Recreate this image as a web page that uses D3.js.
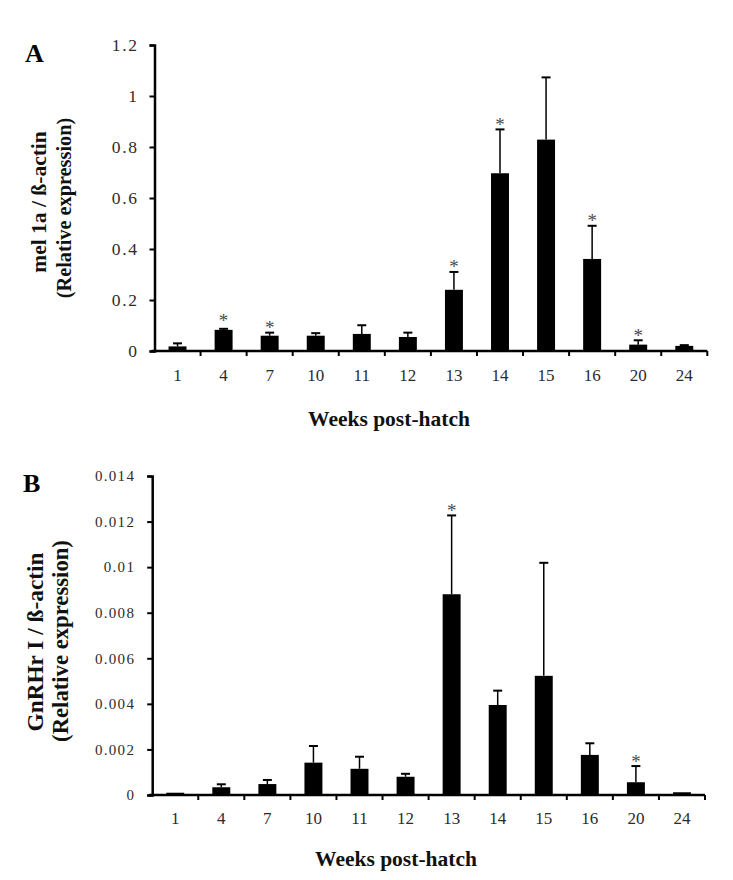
<!DOCTYPE html>
<html>
<head>
<meta charset="utf-8">
<script src="https://cdn.jsdelivr.net/npm/d3@7/dist/d3.min.js"></script>
<style>
  html, body { margin: 0; padding: 0; background: #fff; }
  svg { display: block; }
</style>
</head>
<body>
<svg id="chart" width="733" height="880" font-family="'Liberation Serif', 'Times New Roman', serif"></svg>
<script>
// ---- data ----
const weeks = ["1","4","7","10","11","12","13","14","15","16","20","24"];

const melMean = [0.018, 0.083, 0.060, 0.060, 0.067, 0.055, 0.240, 0.697, 0.829, 0.361, 0.025, 0.020];
const melErr  = [0.012, 0.004, 0.012, 0.010, 0.034, 0.017, 0.070, 0.172, 0.244, 0.130, 0.017, 0.003];
const melStar = ["4","7","13","14","16","20"];
const melTicks = [0, 0.2, 0.4, 0.6, 0.8, 1, 1.2];
const melTickLabels = ["0","0.2","0.4","0.6","0.8","1","1.2"];

const gnMean = [0.0001, 0.00034, 0.00048, 0.00142, 0.00115, 0.00080, 0.00881, 0.00395, 0.00523, 0.00176, 0.00056, 0.00012];
const gnErr  = [0.0000, 0.00013, 0.00018, 0.00073, 0.00053, 0.00013, 0.00346, 0.00063, 0.00496, 0.00051, 0.00071, 0.00000];
const gnStar = ["13","20"];
const gnTicks = [0, 0.002, 0.004, 0.006, 0.008, 0.01, 0.012, 0.014];
const gnTickLabels = ["0","0.002","0.004","0.006","0.008","0.01","0.012","0.014"];

const FONT = "'Liberation Serif', 'Times New Roman', serif";
const svg = d3.select("#chart");

function panel(cfg) {
  const g = svg.append("g");
  const x = d3.scaleBand().domain(weeks).range(cfg.xRange)
    .paddingInner(0.61).paddingOuter(0.305);
  const y = d3.scaleLinear().domain([0, cfg.yMax]).range(cfg.yRange);
  const cx = d => x(d) + x.bandwidth()/2;
  const topY = d => { const i = weeks.indexOf(d); return y(cfg.mean[i] + cfg.err[i]); };

  // bars
  g.selectAll("rect.bar").data(weeks).join("rect")
    .attr("x", d => x(d))
    .attr("width", x.bandwidth())
    .attr("y", (d,i) => y(cfg.mean[i]))
    .attr("height", (d,i) => y(0) - y(cfg.mean[i]))
    .attr("fill", "#000");

  // error bars
  const withErr = weeks.filter((d,i) => cfg.err[i] > 0);
  g.selectAll("line.ebv").data(withErr).join("line")
    .attr("x1", cx).attr("x2", cx)
    .attr("y1", d => y(cfg.mean[weeks.indexOf(d)]))
    .attr("y2", topY)
    .attr("stroke", "#000").attr("stroke-width", 1.5);
  g.selectAll("line.ebc").data(withErr).join("line")
    .attr("x1", d => cx(d) - 4.5).attr("x2", d => cx(d) + 4.5)
    .attr("y1", topY).attr("y2", topY)
    .attr("stroke", "#000").attr("stroke-width", 2);

  // stars
  g.selectAll("text.star").data(cfg.stars).join("text")
    .attr("x", cx)
    .attr("y", d => { const i = weeks.indexOf(d); return topY(d) + 1.5 - (cfg.err[i] < 0.01*cfg.yMax ? 3 : 0); })
    .attr("text-anchor", "middle")
    .attr("font-family", FONT)
    .attr("font-size", 19)
    .attr("fill", "#4a4a4a")
    .text("*");

  // y axis
  const yAxis = d3.axisLeft(y).tickValues(cfg.ticks)
    .tickFormat((d,i) => cfg.tickLabels[i]).tickSize(5).tickPadding(cfg.yPad);
  const ya = g.append("g").attr("transform", `translate(${cfg.xRange[0]},0)`).call(yAxis);
  ya.attr("font-family", FONT);
  ya.select(".domain").attr("stroke", "#000").attr("stroke-width", 2.5);
  ya.selectAll(".tick line").attr("stroke", "#000").attr("stroke-width", 2);
  ya.selectAll(".tick text")
    .attr("font-size", cfg.yFont)
    .attr("letter-spacing", cfg.yLetter)
    .attr("fill", "#2b2b2b");

  // x axis
  const xAxis = d3.axisBottom(x).tickSize(0).tickPadding(cfg.xPad);
  const xa = g.append("g").attr("transform", `translate(0,${y(0)})`).call(xAxis);
  xa.attr("font-family", FONT);
  xa.select(".domain").remove();
  xa.selectAll(".tick text")
    .attr("font-size", 17)
    .attr("fill", "#2b2b2b");
  g.append("line")
    .attr("x1", cfg.xRange[0] - 3).attr("x2", cfg.xRange[1])
    .attr("y1", y(0)).attr("y2", y(0))
    .attr("stroke", "#000").attr("stroke-width", 2.5);
  const step = x.step();
  g.selectAll("line.xt").data(weeks).join("line")
    .attr("x1", d => cx(d) + step/2)
    .attr("x2", d => cx(d) + step/2)
    .attr("y1", y(0)).attr("y2", y(0) + 5)
    .attr("stroke", "#000").attr("stroke-width", 2);

  // x title
  g.append("text")
    .attr("x", cfg.xTitle[0]).attr("y", cfg.xTitle[1])
    .attr("text-anchor", "middle")
    .attr("font-family", FONT)
    .attr("font-weight", "bold").attr("font-size", 21.5)
    .attr("fill", "#111")
    .text("Weeks post-hatch");

  // y title (two lines)
  cfg.yTitle.forEach(t => {
    g.append("text")
      .attr("transform", `translate(${t.x},${t.y}) rotate(-90)`)
      .attr("text-anchor", "middle")
      .attr("font-family", FONT)
      .attr("font-weight", "bold").attr("font-size", t.size)
      .attr("fill", "#111")
      .text(t.text);
  });

  // panel letter
  g.append("text")
    .attr("x", cfg.letter[0]).attr("y", cfg.letter[1])
    .attr("font-family", FONT)
    .attr("font-weight", "bold").attr("font-size", 26)
    .attr("fill", "#000")
    .text(cfg.letter[2]);
}

panel({
  mean: melMean, err: melErr, stars: melStar,
  yMax: 1.2, ticks: melTicks, tickLabels: melTickLabels,
  xRange: [154.5, 707.3], yRange: [351, 45],
  yFont: 17.5, yLetter: 1.6, yPad: 11, xPad: 18,
  xTitle: [389, 426],
  yTitle: [
    {text: "mel 1a / \u00DF-actin", x: 46, y: 202, size: 21.5},
    {text: "(Relative expression)", x: 71, y: 208, size: 20.3}
  ],
  letter: [25, 62, "A"]
});

panel({
  mean: gnMean, err: gnErr, stars: gnStar,
  yMax: 0.014, ticks: gnTicks, tickLabels: gnTickLabels,
  xRange: [152.2, 705], yRange: [795, 476],
  yFont: 15, yLetter: 1.3, yPad: 12, xPad: 17,
  xTitle: [396, 866],
  yTitle: [
    {text: "GnRHr I / \u00DF-actin", x: 43, y: 642, size: 23.3},
    {text: "(Relative expression)", x: 68, y: 641, size: 22.7}
  ],
  letter: [23, 492, "B"]
});
</script>
</body>
</html>
